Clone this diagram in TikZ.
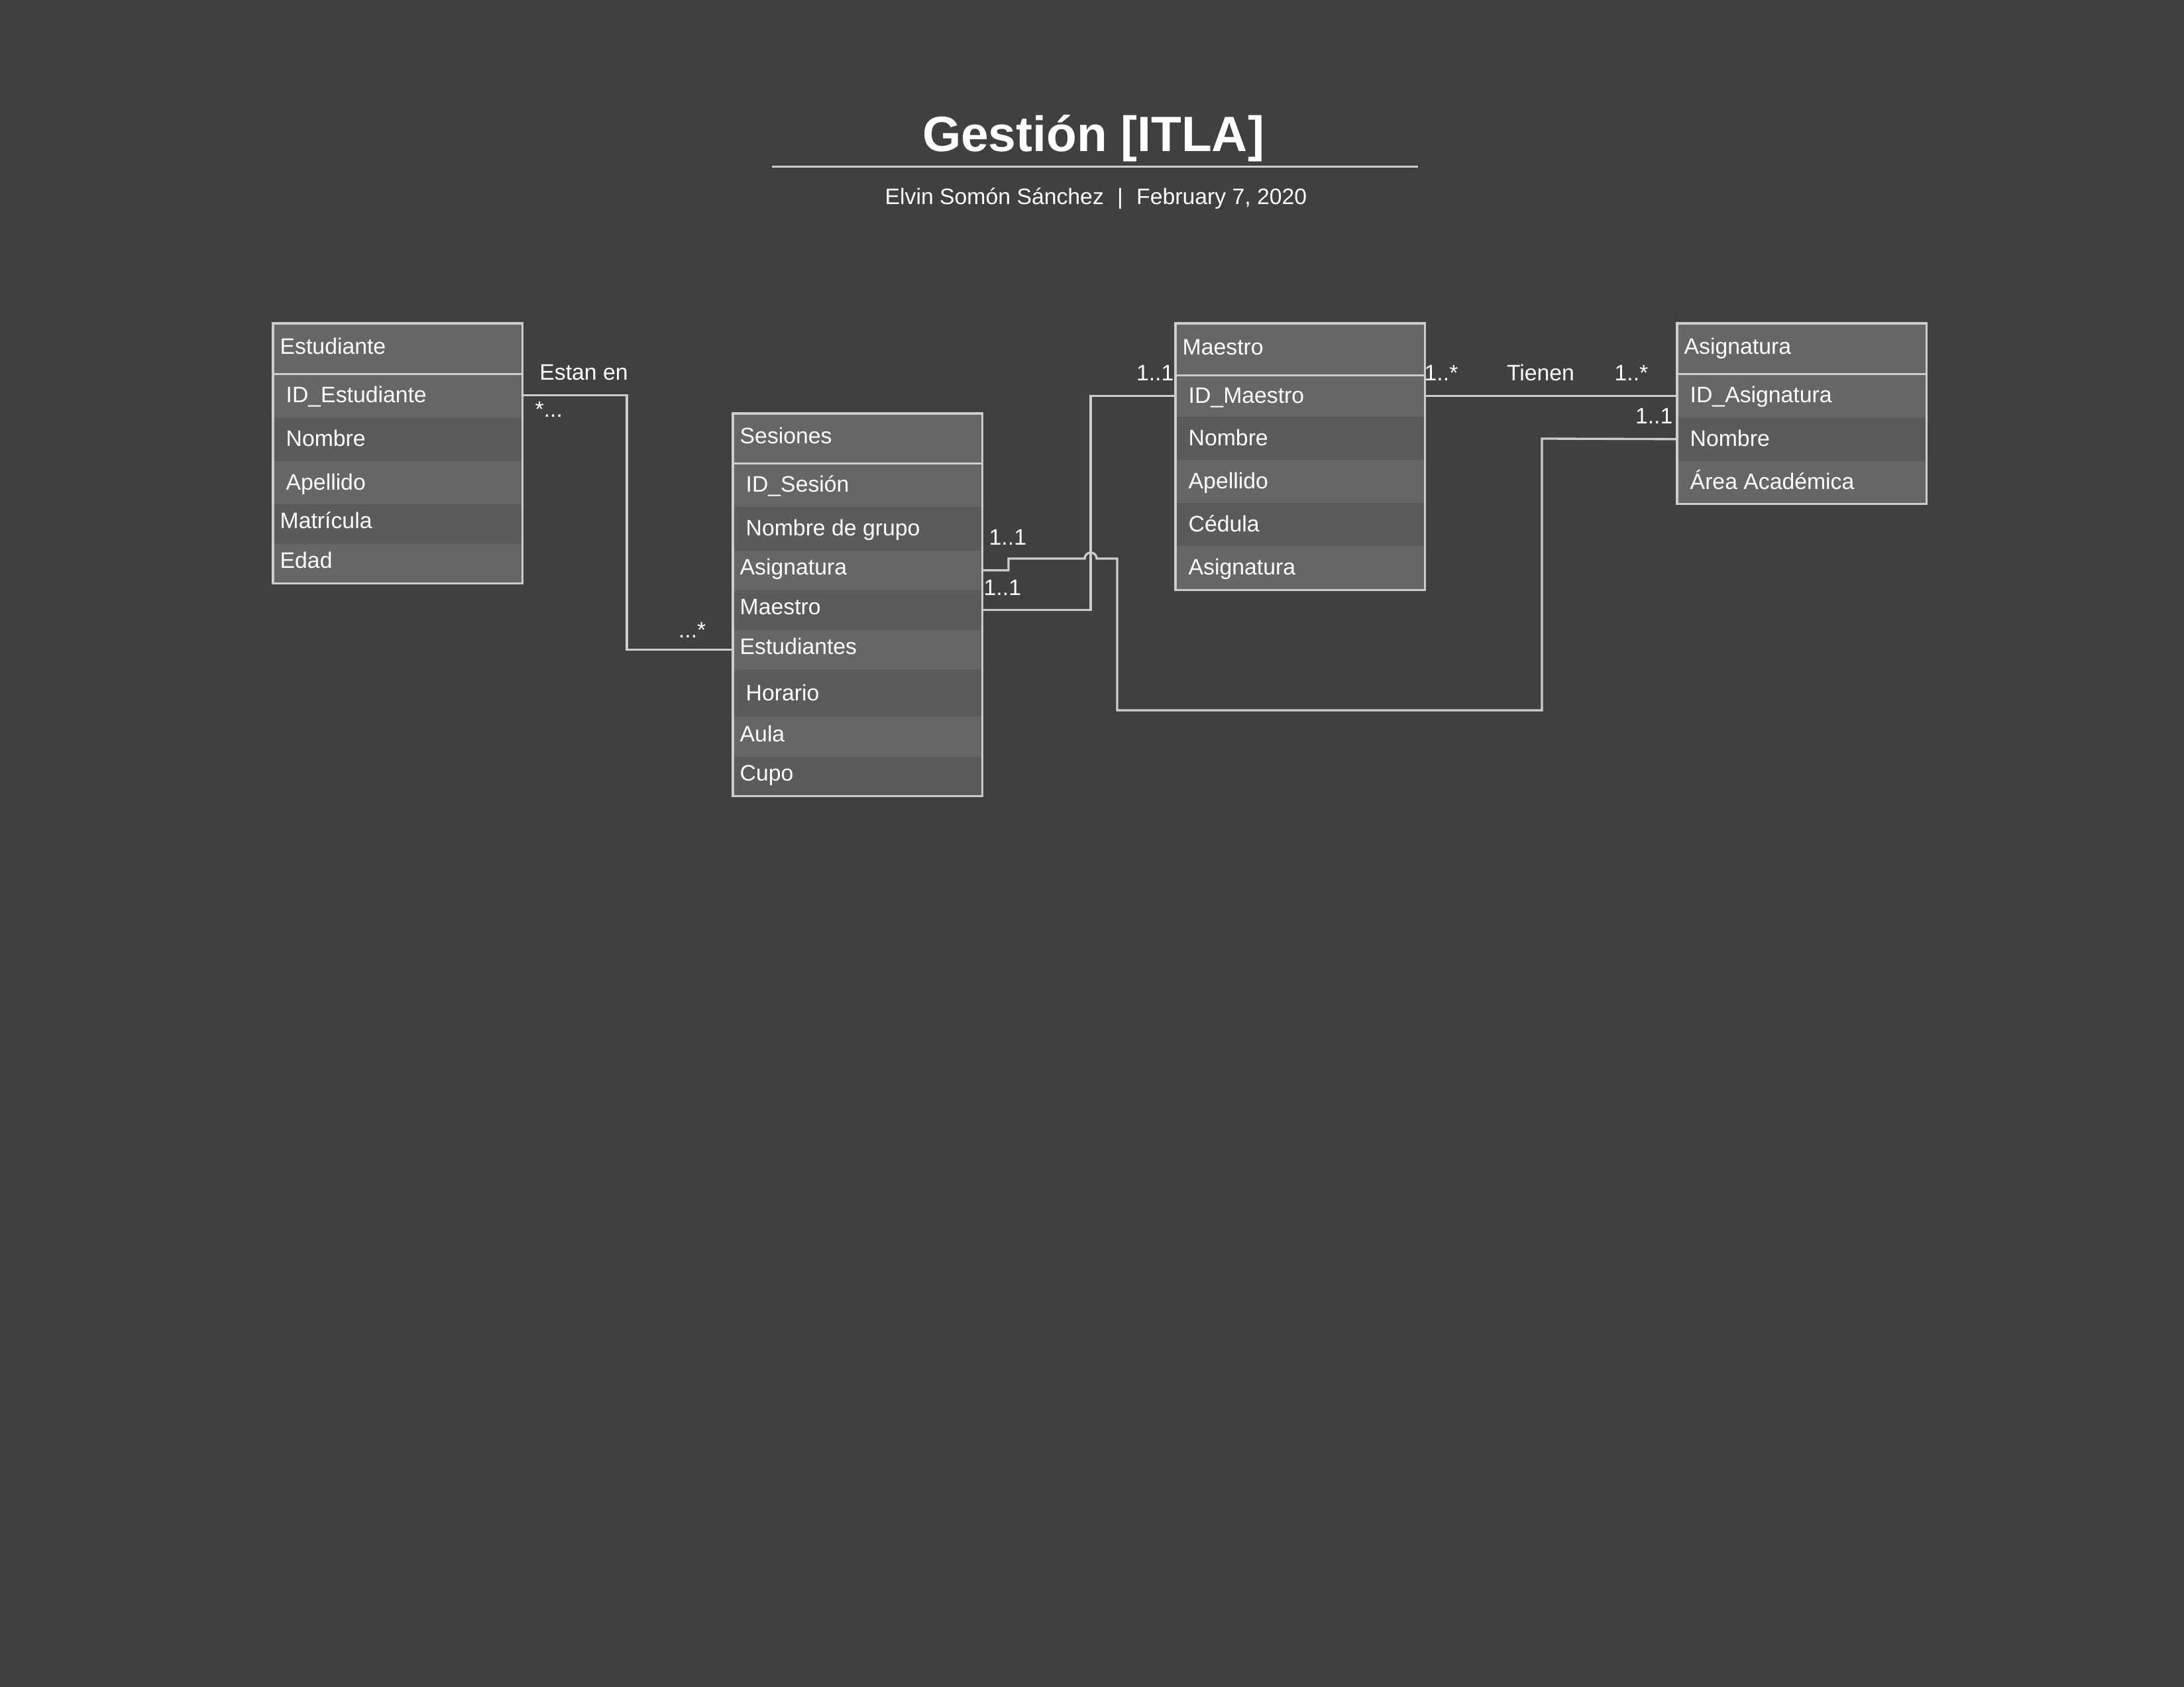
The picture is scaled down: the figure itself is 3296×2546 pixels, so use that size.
\documentclass[tikz,border=0pt]{standalone}
\usepackage{fontspec}
\setmainfont{Liberation Sans}
\definecolor{bg}{HTML}{404040}
\definecolor{rowL}{HTML}{666666}
\definecolor{rowD}{HTML}{5B5B5B}
\definecolor{edge}{HTML}{CCCCCC}
\tikzset{
 rowbox/.style={rectangle, draw=none, inner sep=0pt, minimum width=3.75cm, anchor=north west},
 rowtext/.style={text=white, inner sep=0pt, anchor=base west, font=\fontsize{9.6}{11.5}\selectfont},
 lbl/.style={text=white, inner sep=0pt, anchor=base, font=\fontsize{9.6}{11.5}\selectfont},
 boxedge/.style={draw=edge, line width=1pt},
 conn/.style={draw=edge, line width=0.95pt},
}
% name, xleft, ytop, ybot, fill, indent(px), text
\newcommand\erow[7]{%
 \pgfmathsetmacro\erowh{(#4-#3)*0.01}%
 \pgfmathsetmacro\erowb{(#4+#3)/2+(#6==10?8:12)}%
 \pgfmathsetmacro\erowx{#2+#6}%
 \node[rowbox, fill=#5, minimum height=\erowh cm] (#1) at (#2,#3) {};%
 \node[rowtext] (#1-t) at (\erowx,\erowb) {#7};%
}
\newcommand\ehead[5]{% name, xleft, ytop, ybot, text
 \pgfmathsetmacro\erowh{(#4-#3)*0.01}%
 \pgfmathsetmacro\erowb{(#4+#3)/2+9}%
 \pgfmathsetmacro\erowx{#2+10}%
 \node[rowbox, fill=rowL, minimum height=\erowh cm] (#1) at (#2,#3) {};%
 \node[rowtext] (#1-t) at (\erowx,\erowb) {#5};%
}
\begin{document}
\begin{tikzpicture}[x=0.01cm, y=-0.01cm]
\fill[bg] (0,0) rectangle (3296,2546);
\useasboundingbox (0,0) rectangle (3296,2546);

% title
\node[text=white, inner sep=0pt, anchor=base, font=\bfseries\fontsize{21.3}{26}\selectfont] (title) at (1650,229) {Gestión [ITLA]};
\coordinate (rl) at (1165,252);
\coordinate (rr) at (2140,252);
\draw[edge, line width=0.85pt] (rl) -- (rr);
\node[lbl] (sub) at (1654,309) {Elvin Somón Sánchez\hspace{0.6em}|\hspace{0.6em}February 7, 2020};

% Estudiante
\ehead{est-h}{412}{488}{563}{Estudiante}
\erow{est-id}{412}{563}{629}{rowL}{19}{ID\_Estudiante}
\erow{est-nom}{412}{629}{695}{rowD}{19}{Nombre}
\erow{est-ape}{412}{695}{760}{rowL}{19}{Apellido}
\erow{est-mat}{412}{760}{820}{rowD}{10}{Matrícula}
\erow{est-eda}{412}{820}{879}{rowL}{10}{Edad}
\draw[boxedge] (est-h.north west) rectangle (est-eda.south east);
\draw[boxedge] (est-h.south west) -- (est-h.south east);

% Sesiones
\ehead{ses-h}{1106}{624}{698}{Sesiones}
\erow{ses-id}{1106}{698}{764}{rowL}{19}{ID\_Sesión}
\erow{ses-nom}{1106}{764}{830}{rowD}{19}{Nombre de grupo}
\erow{ses-asig}{1106}{830}{890}{rowL}{10}{Asignatura}
\erow{ses-mae}{1106}{890}{950}{rowD}{10}{Maestro}
\erow{ses-est}{1106}{950}{1010}{rowL}{10}{Estudiantes}
\erow{ses-hor}{1106}{1010}{1081}{rowD}{19}{Horario}
\erow{ses-aula}{1106}{1081}{1141}{rowL}{10}{Aula}
\erow{ses-cupo}{1106}{1141}{1200}{rowD}{10}{Cupo}
\draw[boxedge] (ses-h.north west) rectangle (ses-cupo.south east);
\draw[boxedge] (ses-h.south west) -- (ses-h.south east);

% Maestro
\ehead{mae-h}{1774}{488}{565}{Maestro}
\erow{mae-id}{1774}{565}{628}{rowL}{19}{ID\_Maestro}
\erow{mae-nom}{1774}{628}{693}{rowD}{19}{Nombre}
\erow{mae-ape}{1774}{693}{758}{rowL}{19}{Apellido}
\erow{mae-ced}{1774}{758}{823}{rowD}{19}{Cédula}
\erow{mae-asig}{1774}{823}{889}{rowL}{19}{Asignatura}
\draw[boxedge] (mae-h.north west) rectangle (mae-asig.south east);
\draw[boxedge] (mae-h.south west) -- (mae-h.south east);

% Asignatura
\ehead{asi-h}{2531}{488}{563}{Asignatura}
\erow{asi-id}{2531}{563}{629}{rowL}{19}{ID\_Asignatura}
\erow{asi-nom}{2531}{629}{695}{rowD}{19}{Nombre}
\erow{asi-area}{2531}{695}{759}{rowL}{19}{Área Académica}
\draw[boxedge] (asi-h.north west) rectangle (asi-area.south east);
\draw[boxedge] (asi-h.south west) -- (asi-h.south east);

% connectors
\coordinate (j1) at (946,0);
\coordinate (j2) at (1646,0);
\coordinate (b1) at (1522,843);
\coordinate (hopL) at (1637,843);
\coordinate (b2) at (1686,1072);
\coordinate (b3) at (2327,662);

\draw[conn] (est-id.east) -| (j1 |- ses-est.west) -- (ses-est.west);
\draw[conn] (ses-mae.east) -| (j2 |- mae-id.west) -- (mae-id.west);
\draw[conn] (ses-asig.east) -| (b1) -- (hopL) arc[start angle=180, end angle=0, radius=0.09cm] -| (b2) -| (b3) -- (asi-nom.west);
\draw[conn] (mae-id.east) -- (mae-id.east -| asi-id.west);

% labels
\node[lbl] (l-estan) at (881,574) {Estan en};
\node[lbl, anchor=base west] (l-m1) at (807,630) {*...};
\node[lbl, anchor=base east] (l-m2) at (1066,962) {...*};
\node[lbl, anchor=base west] (l-s1) at (1492,823) {1..1};
\node[lbl, anchor=base west] (l-s2) at (1484,899) {1..1};
\node[lbl, anchor=base east] (l-m3) at (1772,575) {1..1};
\node[lbl, anchor=base west] (l-m4) at (2149,575) {1..*};
\node[lbl] (l-tienen) at (2325,575) {Tienen};
\node[lbl] (l-m5) at (2462,575) {1..*};
\node[lbl, anchor=base east] (l-m6) at (2525,640) {1..1};
\end{tikzpicture}
\end{document}
